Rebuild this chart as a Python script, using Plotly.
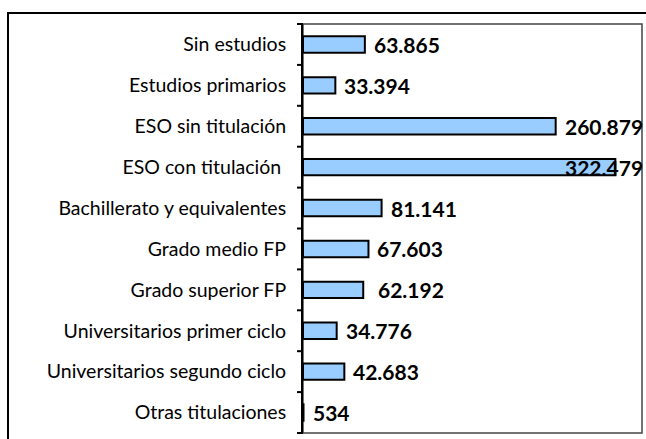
import plotly.graph_objects as go

# Data
categories = [
    "Sin estudios",
    "Estudios primarios",
    "ESO sin titulación",
    "ESO con titulación ",
    "Bachillerato y equivalentes",
    "Grado medio FP",
    "Grado superior FP",
    "Universitarios primer ciclo",
    "Universitarios segundo ciclo",
    "Otras titulaciones",
]
values = [63865, 33394, 260879, 322479, 81141, 67603, 62192, 34776, 42683, 534]
label_shift = [7, 7, 7, -52, 7, 7, 13, 7, 7, 7]

W, H = 646, 439
L, R, T, B = 303, 4, 24, 6
pw, ph = W - L - R, H - T - B


def fmt(v):
    return f"{v:,}".replace(",", ".")


fig = go.Figure()

fig.add_trace(go.Bar(
    x=values,
    y=categories,
    orientation="h",
    marker=dict(color="#99CCFF", line=dict(color="black", width=2)),
    width=0.4,
    hoverinfo="skip",
))

# value labels
for cat, v, s in zip(categories, values, label_shift):
    fig.add_annotation(
        x=v, y=cat, text=fmt(v), showarrow=False,
        xanchor="left", xshift=s,
        font=dict(family="Lato", size=21, color="black", weight="bold"),
    )

# plot area border
fig.add_shape(type="rect", xref="paper", yref="paper", x0=0, x1=1, y0=0, y1=1,
              line=dict(color="#444444", width=1.5), layer="below")
# outer frame
fig.add_shape(type="rect", xref="paper", yref="paper",
              x0=(8 - L) / pw, x1=(W + 5 - L) / pw,
              y0=-(B + 5) / ph, y1=1 + (T - 13) / ph,
              line=dict(color="black", width=2))

# tick marks between categories
n = len(categories)
for k in range(n + 1):
    fig.add_shape(type="line", xref="paper", yref="paper",
                  x0=-6 / pw, x1=0, y0=k / n, y1=k / n,
                  line=dict(color="black", width=2))

fig.update_xaxes(range=[0, 350000], showticklabels=False, showgrid=False,
                 zeroline=False, showline=False, ticks="")
fig.update_yaxes(autorange="reversed", showline=True, linecolor="black", linewidth=2,
                 ticks="", ticklabelstandoff=11, showgrid=False,
                 automargin=False,
                 tickfont=dict(family="Lato", size=19.5, color="black"))

fig.update_layout(
    width=W, height=H,
    margin=dict(l=L, r=R, t=T, b=B),
    plot_bgcolor="white", paper_bgcolor="white",
    showlegend=False,
)

fig.write_html("out.html", config={"displayModeBar": False},
               post_script="document.body.style.margin='0';")
